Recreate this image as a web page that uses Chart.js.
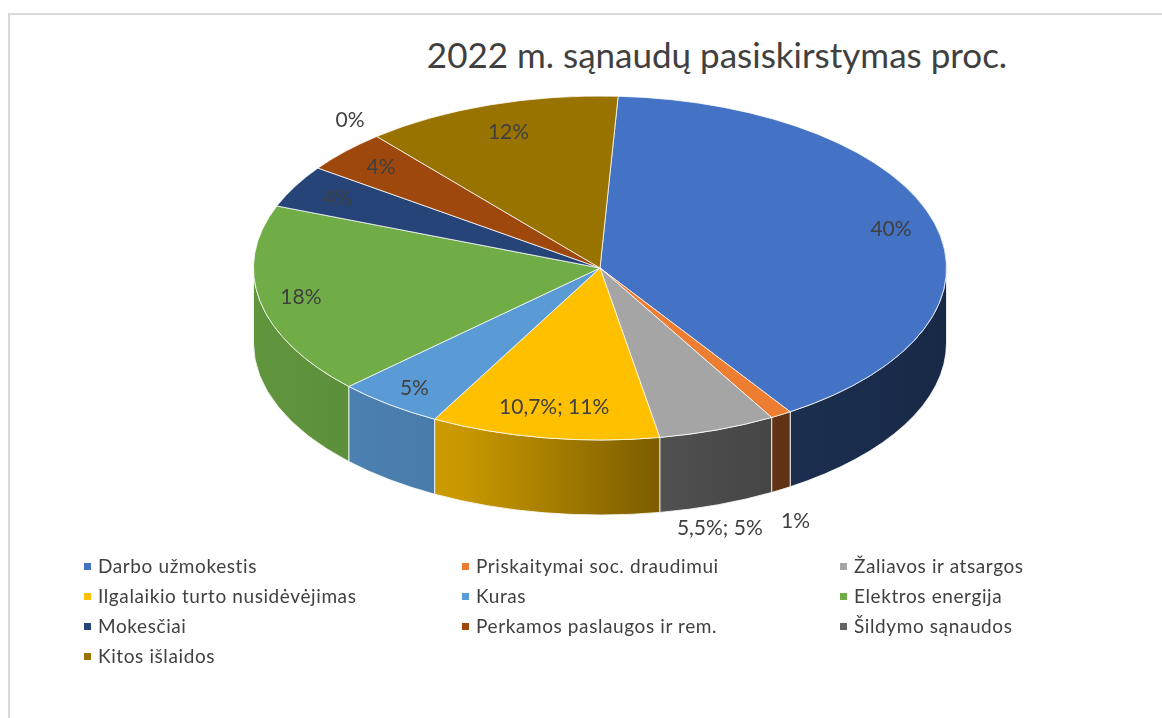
<!DOCTYPE html>
<html>
<head>
<meta charset="utf-8">
<script src="https://cdn.jsdelivr.net/npm/chart.js@4.4.0/dist/chart.umd.min.js"></script>
<style>
  body { margin: 0; width: 1162px; height: 718px; overflow: hidden; position: relative; background: #fff;
         font-family: Lato, "Open Sans", sans-serif; color: #404040; }
  #frame { position: absolute; left: 8px; top: 13px; width: 1200px; height: 800px; border: 2px solid #d9d9d9; }
  #title { position: absolute; left: 0; width: 1434px; top: 34px; text-align: center; font-size: 35px; line-height: 40px; }
  #chart { position: absolute; left: 0; top: 0; }
  .item { position: absolute; font-size: 19px; line-height: 20px; letter-spacing: 0.6px; white-space: nowrap; }
  .item i { position: absolute; left: -14px; top: 7px; width: 7px; height: 7px; }
</style>
</head>
<body>
<div id="frame"></div>
<div id="title">2022 m. sąnaudų pasiskirstymas proc.</div>
<canvas id="chart" width="1162" height="718"></canvas>
<div id="legend"></div>
<script>
// data
var categories = ['Darbo užmokestis', 'Priskaitymai soc. draudimui', 'Žaliavos ir atsargos',
  'Ilgalaikio turto nusidėvėjimas', 'Kuras', 'Elektros energija', 'Mokesčiai',
  'Perkamos paslaugos ir rem.', 'Šildymo sąnaudos', 'Kitos išlaidos'];
var shares = [40, 1, 5.5, 10.7, 5, 18, 4, 4, 0, 12];
var sliceLabels = ['40%', '1%', '5,5%; 5%', '10,7%; 11%', '5%', '18%', '4%', '4%', '0%', '12%'];
var colors = ['#4472C4', '#ED7D31', '#A5A5A5', '#FFC000', '#5B9BD5', '#70AD47', '#264478', '#9E480E', '#636363', '#997300'];

// fake 3d: squash the pie into an ellipse and draw the front wall under it
var TOP_CY = 268, RY = 172, DEPTH = 75;
var labelRadius = [0.87, 1.08, 1.02, 0.82, 0.88, 0.88, 0.86, 0.86, 1.12, 0.83];

function shade(hex, f) {
  var n = parseInt(hex.slice(1), 16);
  return 'rgb(' + Math.round((n >> 16) * f) + ',' + Math.round(((n >> 8) & 255) * f) + ',' + Math.round((n & 255) * f) + ')';
}

var pie3d = {
  id: 'pie3d',
  beforeDatasetsDraw: function (chart) {
    var ctx = chart.ctx, arcs = chart.getDatasetMeta(0).data;
    var cx = arcs[0].x, r = arcs[0].outerRadius;
    arcs.forEach(function (a, i) {
      var s = Math.max(a.startAngle, 0), e = Math.min(a.endAngle, Math.PI);
      if (e <= s) return;
      var g = ctx.createLinearGradient(cx - r, 0, cx + r, 0);
      [[0, .86], [.3, .79], [.58, .49], [.76, .41], [1, .36]].forEach(function (st) {
        g.addColorStop(st[0], shade(colors[i], st[1]));
      });
      ctx.beginPath();
      ctx.ellipse(cx, TOP_CY, r, RY, 0, s, e);
      ctx.ellipse(cx, TOP_CY + DEPTH, r, RY, 0, e, s, true);
      ctx.closePath();
      ctx.fillStyle = g;
      ctx.fill();
      ctx.strokeStyle = 'rgba(255,255,255,0.8)';
      ctx.lineWidth = 1;
      ctx.stroke();
    });
    ctx.save();
    ctx.translate(0, TOP_CY);
    ctx.scale(1, RY / r);
    ctx.translate(0, -arcs[0].y);
  },
  afterDatasetsDraw: function (chart) {
    var ctx = chart.ctx, arcs = chart.getDatasetMeta(0).data;
    ctx.restore();
    var cx = arcs[0].x, r = arcs[0].outerRadius;
    ctx.font = '21px Lato';
    ctx.fillStyle = '#404040';
    ctx.textAlign = 'center';
    ctx.textBaseline = 'middle';
    arcs.forEach(function (a, i) {
      var t = (a.startAngle + a.endAngle) / 2, f = labelRadius[i];
      var x = cx + f * r * Math.cos(t);
      var y = TOP_CY + f * RY * Math.sin(t);
      if (f > 1 && Math.sin(t) > 0) y += DEPTH + 20;
      ctx.fillText(sliceLabels[i], x, y);
    });
  }
};

var ctx = document.getElementById('chart').getContext('2d');
var chart = new Chart(ctx, {
  type: 'pie',
  data: {
    labels: categories,
    datasets: [{
      data: shares,
      backgroundColor: colors,
      borderColor: '#ffffff',
      borderWidth: 1,
      clip: false
    }]
  },
  options: {
    responsive: false,
    animation: false,
    events: [],
    rotation: 3,
    layout: { padding: { left: 253, right: 215, top: 12, bottom: 12 } },
    plugins: { legend: { display: false }, tooltip: { enabled: false } }
  },
  plugins: [pie3d]
});

// legend, three columns like the original
var legend = document.getElementById('legend');
var colX = [98, 476, 854], rowY = [556, 586, 616, 646];
chart.data.labels.forEach(function (lab, i) {
  var d = document.createElement('div');
  d.className = 'item';
  d.style.left = colX[i % 3] + 'px';
  d.style.top = rowY[Math.floor(i / 3)] + 'px';
  d.innerHTML = '<i style="background:' + colors[i] + '"></i>' + lab;
  legend.appendChild(d);
});
</script>
</body>
</html>
